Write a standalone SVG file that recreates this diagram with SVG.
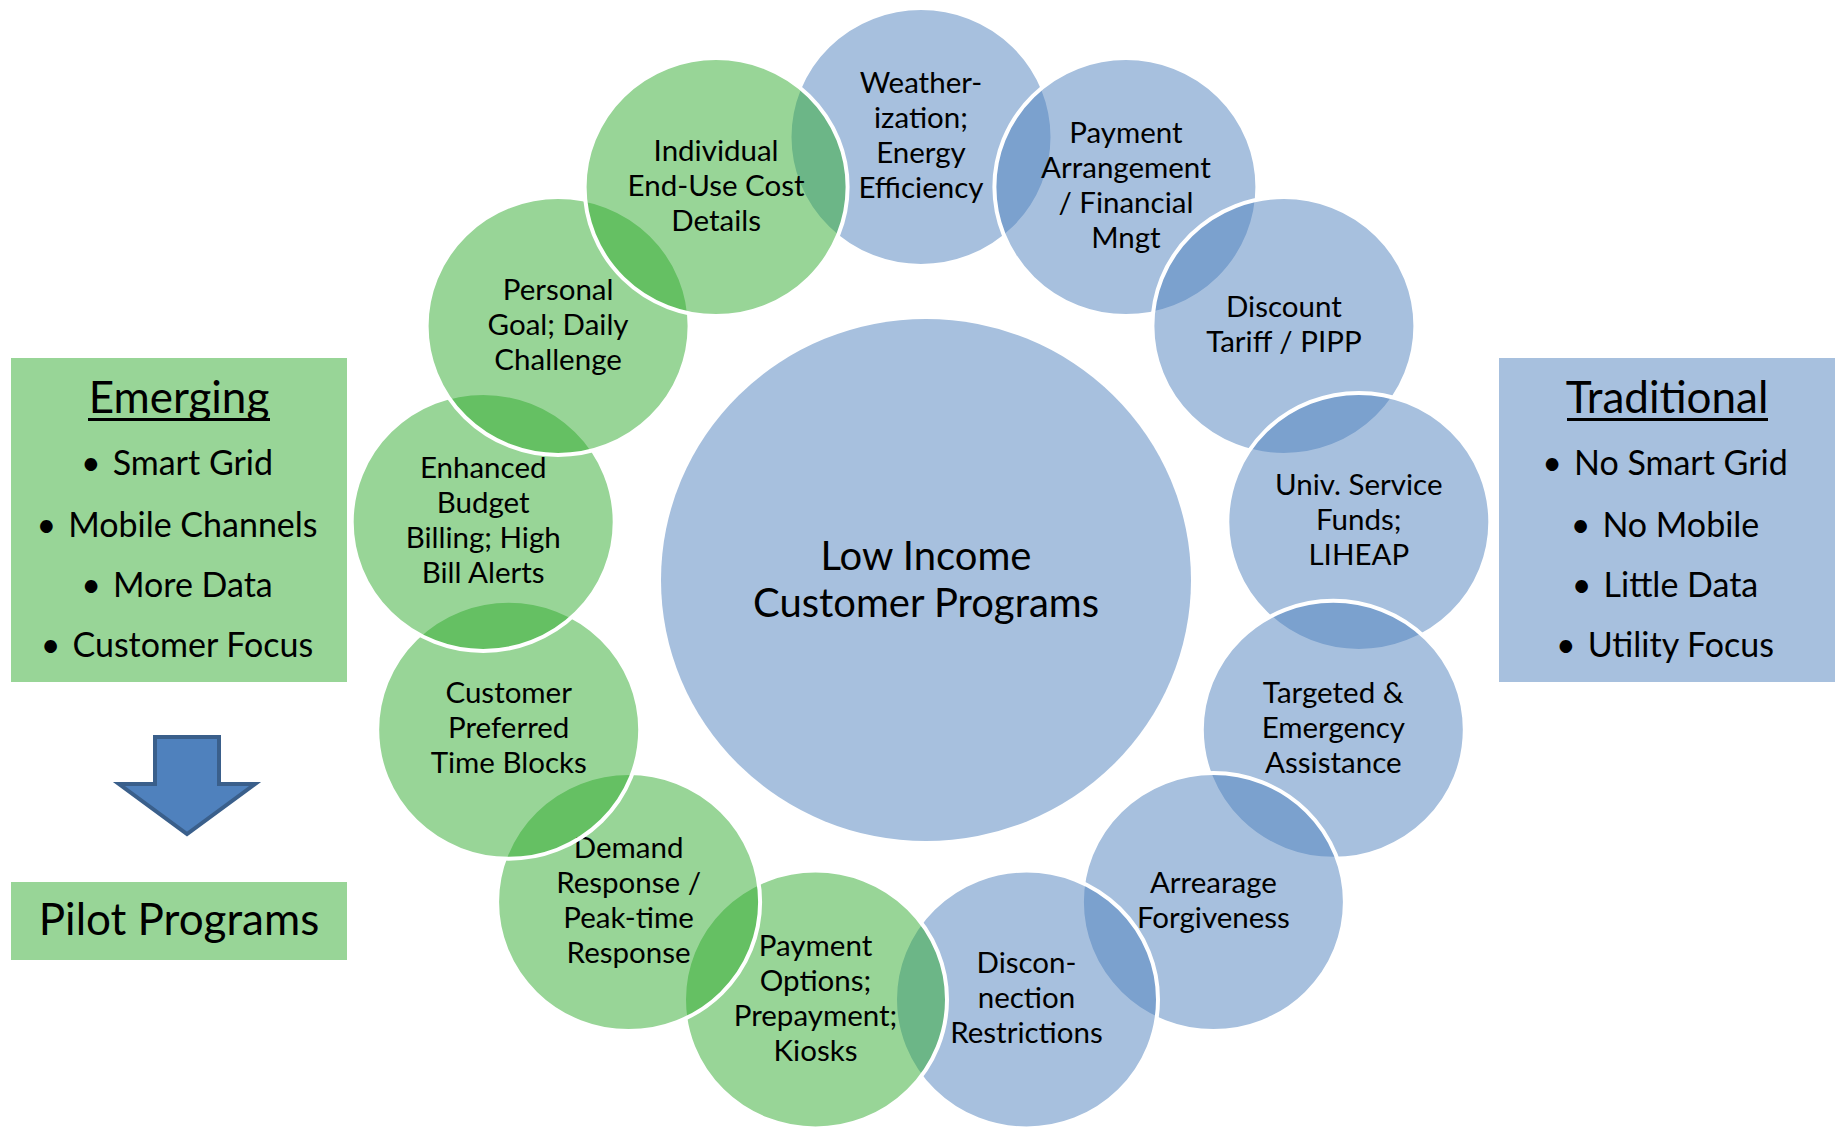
<svg xmlns="http://www.w3.org/2000/svg" width="1835" height="1127" viewBox="0 0 1835 1127">
  <style>
    .blue { fill: #4F81BD; fill-opacity: 0.5; stroke: #FFFFFF; stroke-width: 4; }
    .green { fill: #31AB2F; fill-opacity: 0.5; stroke: #FFFFFF; stroke-width: 4; }
    .core { fill: #A7C0DE; }
    .t { font-family: Lato, "Open Sans", "Liberation Sans", sans-serif; fill: #000000; text-anchor: middle; }
    .lbl { font-size: 29.5px; }
    .center { font-size: 40px; }
    .head { font-size: 44px; }
    .item { font-size: 34px; }
    .pilot { font-size: 44px; }
  </style>

  <rect width="1835" height="1127" fill="#FFFFFF"/>

  <!-- left legend -->
  <g id="emerging">
    <rect x="11" y="358" width="336" height="324" fill="#98D597"/>
    <text class="t head" x="179" y="413">Emerging</text>
    <rect x="88" y="418" width="182" height="3" fill="#000000"/>
    <text class="t item" x="177" y="475"><tspan>•</tspan><tspan dx="12">Smart Grid</tspan></text>
    <text class="t item" x="177" y="537"><tspan>•</tspan><tspan dx="12">Mobile Channels</tspan></text>
    <text class="t item" x="177" y="597"><tspan>•</tspan><tspan dx="12">More Data</tspan></text>
    <text class="t item" x="177" y="657"><tspan>•</tspan><tspan dx="12">Customer Focus</tspan></text>
  </g>

  <g id="arrow-down">
    <polygon points="155,737 219,737 219,784 255,784 187,834 119,784 155,784" fill="#4F81BD" stroke="#3A5F8B" stroke-width="4" stroke-linejoin="miter"/>
  </g>

  <g id="pilot-programs">
    <rect x="11" y="882" width="336" height="78" fill="#98D597"/>
    <text class="t pilot" x="179" y="935">Pilot Programs</text>
  </g>

  <!-- right legend -->
  <g id="traditional">
    <rect x="1499" y="358" width="336" height="324" fill="#A7C0DE"/>
    <text class="t head" x="1667" y="413">Traditional</text>
    <rect x="1567" y="418" width="201" height="3" fill="#000000"/>
    <text class="t item" x="1665" y="475"><tspan>•</tspan><tspan dx="12">No Smart Grid</tspan></text>
    <text class="t item" x="1665" y="537"><tspan>•</tspan><tspan dx="12">No Mobile</tspan></text>
    <text class="t item" x="1665" y="597"><tspan>•</tspan><tspan dx="12">Little Data</tspan></text>
    <text class="t item" x="1665" y="657"><tspan>•</tspan><tspan dx="12">Utility Focus</tspan></text>
  </g>

  <!-- hub -->
  <g id="low-income-programs">
    <ellipse class="core" cx="926" cy="580" rx="265" ry="261"/>
    <text class="t center" x="926" y="570">Low Income</text>
    <text class="t center" x="926" y="617">Customer Programs</text>
  </g>

  <!-- ring of programs, drawn clockwise from the top so each overlaps the previous one -->
  <g id="weatherization">
    <ellipse class="blue" cx="921" cy="137" rx="131.5" ry="129"/>
    <text class="t lbl" x="921" y="93">Weather-</text>
    <text class="t lbl" x="921" y="128">ization;</text>
    <text class="t lbl" x="921" y="163">Energy</text>
    <text class="t lbl" x="921" y="198">Efficiency</text>
  </g>
  <g id="payment-arrangement">
    <ellipse class="blue" cx="1125.9" cy="187.1" rx="131.5" ry="129"/>
    <text class="t lbl" x="1125.9" y="143.1">Payment</text>
    <text class="t lbl" x="1125.9" y="178.1">Arrangement</text>
    <text class="t lbl" x="1125.9" y="213.1">/ Financial</text>
    <text class="t lbl" x="1125.9" y="248.1">Mngt</text>
  </g>
  <g id="discount-tariff">
    <ellipse class="blue" cx="1283.9" cy="326" rx="131.5" ry="129"/>
    <text class="t lbl" x="1283.9" y="317">Discount</text>
    <text class="t lbl" x="1283.9" y="352">Tariff / PIPP</text>
  </g>
  <g id="univ-service-funds">
    <ellipse class="blue" cx="1358.8" cy="521.9" rx="131.5" ry="129"/>
    <text class="t lbl" x="1358.8" y="495.4">Univ. Service</text>
    <text class="t lbl" x="1358.8" y="530.4">Funds;</text>
    <text class="t lbl" x="1358.8" y="565.4">LIHEAP</text>
  </g>
  <g id="targeted-assistance">
    <ellipse class="blue" cx="1333.3" cy="729.8" rx="131.5" ry="129"/>
    <text class="t lbl" x="1333.3" y="703.3">Targeted &amp;</text>
    <text class="t lbl" x="1333.3" y="738.3">Emergency</text>
    <text class="t lbl" x="1333.3" y="773.3">Assistance</text>
  </g>
  <g id="arrearage-forgiveness">
    <ellipse class="blue" cx="1213.4" cy="902.1" rx="131.5" ry="129"/>
    <text class="t lbl" x="1213.4" y="893.1">Arrearage</text>
    <text class="t lbl" x="1213.4" y="928.1">Forgiveness</text>
  </g>
  <g id="disconnection-restrictions">
    <ellipse class="blue" cx="1026.5" cy="999.5" rx="131.5" ry="129"/>
    <text class="t lbl" x="1026.5" y="973">Discon-</text>
    <text class="t lbl" x="1026.5" y="1008">nection</text>
    <text class="t lbl" x="1026.5" y="1043">Restrictions</text>
  </g>
  <g id="payment-options">
    <ellipse class="green" cx="815.5" cy="999.5" rx="131.5" ry="129"/>
    <text class="t lbl" x="815.5" y="955.5">Payment</text>
    <text class="t lbl" x="815.5" y="990.5">Options;</text>
    <text class="t lbl" x="815.5" y="1025.5">Prepayment;</text>
    <text class="t lbl" x="815.5" y="1060.5">Kiosks</text>
  </g>
  <g id="demand-response">
    <ellipse class="green" cx="628.6" cy="902.1" rx="131.5" ry="129"/>
    <text class="t lbl" x="628.6" y="858.1">Demand</text>
    <text class="t lbl" x="628.6" y="893.1">Response /</text>
    <text class="t lbl" x="628.6" y="928.1">Peak-time</text>
    <text class="t lbl" x="628.6" y="963.1">Response</text>
  </g>
  <g id="preferred-time-blocks">
    <ellipse class="green" cx="508.7" cy="729.8" rx="131.5" ry="129"/>
    <text class="t lbl" x="508.7" y="703.3">Customer</text>
    <text class="t lbl" x="508.7" y="738.3">Preferred</text>
    <text class="t lbl" x="508.7" y="773.3">Time Blocks</text>
  </g>
  <g id="enhanced-budget-billing">
    <ellipse class="green" cx="483.2" cy="521.9" rx="131.5" ry="129"/>
    <text class="t lbl" x="483.2" y="477.9">Enhanced</text>
    <text class="t lbl" x="483.2" y="512.9">Budget</text>
    <text class="t lbl" x="483.2" y="547.9">Billing; High</text>
    <text class="t lbl" x="483.2" y="582.9">Bill Alerts</text>
  </g>
  <g id="personal-goal">
    <ellipse class="green" cx="558.1" cy="326" rx="131.5" ry="129"/>
    <text class="t lbl" x="558.1" y="299.5">Personal</text>
    <text class="t lbl" x="558.1" y="334.5">Goal; Daily</text>
    <text class="t lbl" x="558.1" y="369.5">Challenge</text>
  </g>
  <g id="end-use-cost-details">
    <ellipse class="green" cx="716.1" cy="187.1" rx="131.5" ry="129"/>
    <text class="t lbl" x="716.1" y="160.6">Individual</text>
    <text class="t lbl" x="716.1" y="195.6">End-Use Cost</text>
    <text class="t lbl" x="716.1" y="230.6">Details</text>
  </g>

  <!-- no connector lines in this layout -->
  <g id="connectors"/>
</svg>
